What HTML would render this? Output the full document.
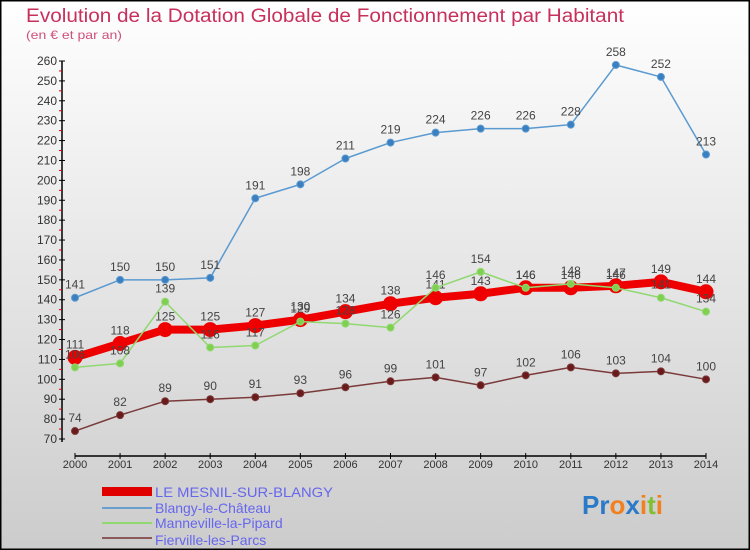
<!DOCTYPE html>
<html><head><meta charset="utf-8"><style>
body{margin:0}
#c{width:750px;height:550px;position:relative;overflow:hidden;font-family:"Liberation Sans",sans-serif}
</style></head><body>
<div id="c">
<svg id="s" width="750" height="550" xmlns="http://www.w3.org/2000/svg">
<defs><linearGradient id="bg" x1="0" y1="0" x2="0" y2="1"><stop offset="0" stop-color="#ffffff"/><stop offset="1" stop-color="#cccccc"/></linearGradient></defs>
<rect x="0" y="0" width="750" height="550" fill="url(#bg)"/>
<rect x="0.5" y="0.5" width="749" height="549" fill="none" stroke="#000" stroke-width="2"/>
<text x="26" y="22" font-size="19" fill="#c8305c" textLength="598" lengthAdjust="spacingAndGlyphs">Evolution de la Dotation Globale de Fonctionnement par Habitant</text>
<text x="26" y="39" font-size="12" fill="#d0507a" textLength="96" lengthAdjust="spacingAndGlyphs">(en € et par an)</text>
<g id="axes"></g>
<g id="series"></g>
<g id="legend">
<rect x="102" y="487" width="50" height="9" fill="#e00000"/>
<text x="155" y="497" font-size="14" fill="#6666ee" textLength="178" lengthAdjust="spacingAndGlyphs">LE MESNIL-SUR-BLANGY</text>
<rect x="102" y="507" width="50" height="2" fill="#6aa0d0"/>
<text x="155" y="513" font-size="14" fill="#6666ee">Blangy-le-Château</text>
<rect x="102" y="522" width="50" height="2" fill="#90d870"/>
<text x="155" y="528" font-size="14" fill="#6666ee">Manneville-la-Pipard</text>
<rect x="102" y="537" width="50" height="2" fill="#8a5a5a"/>
<text x="155" y="545" font-size="14" fill="#6666ee">Fierville-les-Parcs</text>
</g>
<text x="582" y="514" font-size="26" font-weight="bold"><tspan fill="#2a7ac8">Pr</tspan><tspan fill="#f08020">o</tspan><tspan fill="#2a7ac8">x</tspan><tspan fill="#f08020">i</tspan><tspan fill="#80c030">t</tspan><tspan fill="#f08020">i</tspan></text>
</svg>
</div>
<script>
const years=[2000,2001,2002,2003,2004,2005,2006,2007,2008,2009,2010,2011,2012,2013,2014];
const yTicks=[70,80,90,100,110,120,130,140,150,160,170,180,190,200,210,220,230,240,250,260];
const mesnil=[111,118,125,125,127,130,134,138,141,143,146,146,147,149,144];
const blangy=[141,150,150,151,191,198,211,219,224,226,226,228,258,252,213];
const manneville=[106,108,139,116,117,129,128,126,146,154,146,148,146,141,134];
const fierville=[74,82,89,90,91,93,96,99,101,97,102,106,103,104,100];
const NS="http://www.w3.org/2000/svg";
const X0=75,X1=706,Y0=439,Y1=61,VMIN=70,VMAX=260;
function xs(i){return X0+(X1-X0)*i/(years.length-1);}
function ys(v){return Y0-(v-VMIN)*(Y0-Y1)/(VMAX-VMIN);}
function mk(t,a,p){const e=document.createElementNS(NS,t);for(const k in a)e.setAttribute(k,a[k]);p.appendChild(e);return e;}
const ax=document.getElementById('axes');
let yl=mk('line',{x1:62,y1:Y1,x2:62,y2:Y0+3,stroke:'#000','stroke-width':1.5},ax);


let xl=mk('line',{x1:X0,y1:456,x2:X1,y2:456,stroke:'#000','stroke-width':1.5},ax);


yTicks.forEach((v,i)=>{
 const y=ys(v);
 mk('line',{x1:59,y1:y,x2:65,y2:y,stroke:'#000'},ax);
 if(i<yTicks.length-1){mk('line',{x1:59,y1:y-(Y0-Y1)/38,x2:62,y2:y-(Y0-Y1)/38,stroke:'#e00000'},ax);}
 const t=mk('text',{x:57,y:y+4,'text-anchor':'end','font-size':12,fill:'#333'},ax);
 t.textContent=v;
 
 
});
years.forEach((yr,i)=>{
 const x=xs(i);
 mk('line',{x1:x,y1:453,x2:x,y2:459,stroke:'#000'},ax);
 const t=mk('text',{x:x,y:468,'text-anchor':'middle','font-size':11,fill:'#333'},ax);
 t.textContent=yr;
 
 
});
const sg=document.getElementById('series');
function draw(data,name,color,w,r,dot){
 const g=mk('g',{},sg);
 
 
 const pl=mk('polyline',{points:data.map((v,i)=>xs(i)+','+ys(v)).join(' '),fill:'none',stroke:color,'stroke-width':w,'stroke-linejoin':'round'},g);
 
 
 data.forEach((v,i)=>{
  const c=mk('circle',{cx:xs(i),cy:ys(v),r:r,fill:dot,stroke:color,'stroke-width':1},g);
  
  
  const t=mk('text',{x:xs(i),y:ys(v)-9,'text-anchor':'middle','font-size':12,fill:'#444'},g);
  t.textContent=v;
  
  
 });
}
draw(fierville,'fierville','#7a3a3a',1.5,3.5,'#6a1a1a');
draw(blangy,'blangy','#5a9ad0',1.5,3.5,'#3a80c0');
draw(mesnil,'mesnil','#ee0000',8,7,'#ee0000');
draw(manneville,'manneville','#90d870',1.5,3.5,'#80d050');
</script>
</body></html>
